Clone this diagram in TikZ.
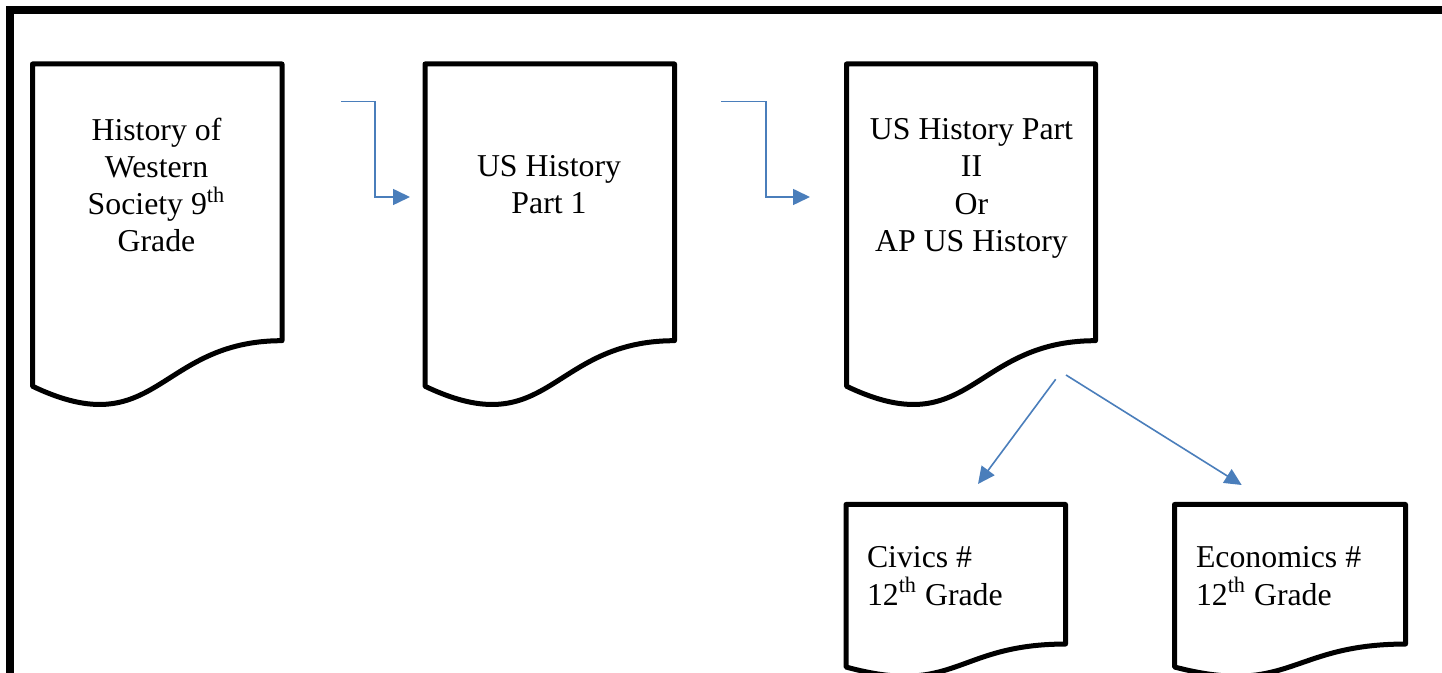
\documentclass[tikz,border=0pt]{standalone}
\usepackage{fontspec}
\setmainfont{Liberation Serif}
\usetikzlibrary{arrows.meta,calc}
\definecolor{arrowblue}{HTML}{4A7EBB}
\tikzset{
  docbox/.style={inner sep=0pt, outer sep=0pt, draw=none, rectangle},
  docline/.style={line width=2.5pt, line join=round, draw=black},
  doctext/.style={inner sep=0pt, outer sep=0pt, align=center, font=\fontsize{15.9pt}{18.6pt}\selectfont},
  doctextl/.style={inner sep=0pt, outer sep=0pt, align=left, anchor=west, font=\fontsize{15.9pt}{18.6pt}\selectfont},
  flow/.style={draw=arrowblue, line width=0.8pt, -{Triangle[length=8.5pt,width=8pt]}},
  frame/.style={line width=4pt, line join=miter, draw=black}
}
\newcommand\docoutline[1]{%
  \draw[docline] (#1.north west) -- (#1.north east)
    -- ($(#1.north east)!0.802!(#1.south east)$)
    .. controls ($(#1.north)!0.802!(#1.south)$) and ($(#1.north)!1.1065!(#1.south)$)
    .. ($(#1.north west)!0.934!(#1.south west)$) -- cycle;}
\begin{document}
\begin{tikzpicture}[x=0.5pt,y=-0.5pt]
\useasboundingbox (0,0) rectangle (1442,673);
\clip (0,0) rectangle (1442,673);
\fill[white] (0,0) rectangle (1442,673);
% outer frame
\draw[frame] (10,720) -- (10,10.5) -- (1480,10.5);

% document boxes (outline area)
\node[docbox, minimum width=124.75pt, minimum height=172.5pt] (d1) at (157.25,236.5) {};
\node[docbox, minimum width=124.75pt, minimum height=172.5pt] (d2) at (549.75,236.5) {};
\node[docbox, minimum width=124.5pt, minimum height=172.5pt] (d3) at (971,236.5) {};
\node[docbox, minimum width=109.75pt, minimum height=87pt] (d4) at (955.75,591.5) {};
\node[docbox, minimum width=115.5pt, minimum height=87pt] (d5) at (1290,591.5) {};
\docoutline{d1}
\docoutline{d2}
\docoutline{d3}
\docoutline{d4}
\docoutline{d5}

% texts
\node[doctext] (t1) at (156.5,185) {History of\\Western\\Society 9\textsuperscript{th}\\Grade};
\node[doctext] (t2) at (549,184.8) {US History\\Part 1};
\node[doctext] (t3) at (971.5,188.4) {US History Part\\II\\Or\\AP US History};
\node[doctextl] (t4) at (867,576.2) {Civics \#\\12\textsuperscript{th} Grade};
\node[doctextl] (t5) at (1196,576.2) {Economics \#\\12\textsuperscript{th} Grade};

% connectors
\coordinate (a1s) at (341,101.7);
\coordinate (a1e) at (410,197);
\coordinate (a2s) at (721,101.7);
\coordinate (a2e) at (810,197);
\coordinate (b1s) at (1055.7,379.3);
\coordinate (b1e) at (978,484);
\coordinate (b2s) at (1066,375);
\coordinate (b2e) at (1241.7,485);
\draw[flow] (a1s) -- (375,101.7) -- (375,197) -- (a1e);
\draw[flow] (a2s) -- (766,101.7) -- (766,197) -- (a2e);
\draw[flow] (b1s) -- (b1e);
\draw[flow] (b2s) -- (b2e);
\end{tikzpicture}
\end{document}
